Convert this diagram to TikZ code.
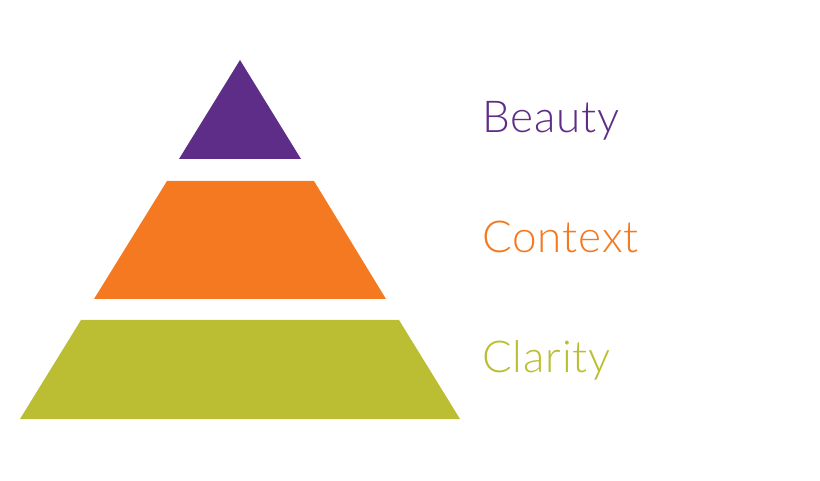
\documentclass[tikz,border=0pt]{standalone}
\usepackage{fontspec}
\setmainfont{Lato}[UprightFont=* Light,LetterSpace=2]
\definecolor{cpurple}{RGB}{94,45,135}
\definecolor{corange}{RGB}{244,121,32}
\definecolor{cgreen}{RGB}{187,190,50}
\begin{document}
\begin{tikzpicture}[x=1pt,y=1pt,
  lbl/.style={anchor=base west,inner sep=0pt,font=\fontsize{44}{50}\selectfont}]
\useasboundingbox (0,0) rectangle (820,480);
\fill[cpurple] (240,420) -- (301,321) -- (179,321) -- cycle;
\fill[corange] (167,299) -- (314,299) -- (386,181) -- (94,181) -- cycle;
\fill[cgreen] (81,160) -- (399,160) -- (460,61) -- (20,61) -- cycle;
\node[lbl,text=cpurple] (beauty) at (482,347) {Beauty};
\node[lbl,text=corange] (context) at (482,227) {Context};
\node[lbl,text=cgreen] (clarity) at (482,108) {Clarity};
\end{tikzpicture}
\end{document}
